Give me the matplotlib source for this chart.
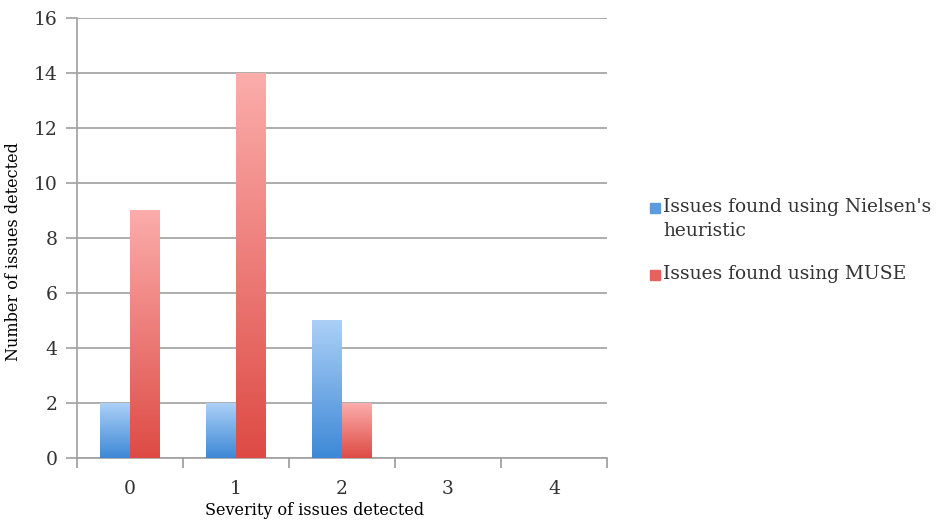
#!/usr/bin/env python3
"""Issues detected by severity: Nielsen's heuristic vs MUSE."""
import numpy as np
import matplotlib
matplotlib.use("Agg")
import matplotlib.pyplot as plt
from matplotlib.colors import LinearSegmentedColormap
from matplotlib.patches import Rectangle

severity = ["0", "1", "2", "3", "4"]
nielsen = [2, 2, 5, 0, 0]
muse = [9, 14, 2, 0, 0]
series_names = ["Issues found using Nielsen's\nheuristic", "Issues found using MUSE"]
series_colors = ["#5b9be0", "#e8625d"]

plt.rcParams["font.family"] = ["DejaVu Serif"]

W, H = 939, 522
fig = plt.figure(figsize=(W/100, H/100), dpi=100)
ax = fig.add_axes([77/W, 1 - 458/H, 530/W, 440/H])

x = np.arange(len(severity))
w = 0.283
b1 = ax.bar(x - w/2, nielsen, w, color="none", zorder=3)
b2 = ax.bar(x + w/2, muse, w, color="none", zorder=3)

blue = LinearSegmentedColormap.from_list("b", ["#3d88d6", "#acd0f7"])
red = LinearSegmentedColormap.from_list("r", ["#de4b45", "#fbadab"])
grad = np.linspace(0, 1, 256).reshape(-1, 1)
for bars, cmap in ((b1, blue), (b2, red)):
    for p in bars:
        h = p.get_height()
        if h <= 0:
            continue
        ax.imshow(grad, cmap=cmap, origin="lower", aspect="auto", zorder=3,
                  extent=(p.get_x(), p.get_x() + p.get_width(), 0, h))

ax.set_xlim(-0.5, len(severity) - 0.5)
ax.set_ylim(0, 16)
ax.set_yticks(range(0, 17, 2))
ax.set_xticks(x)
ax.set_xticklabels(severity)
ax.set_xticks(np.arange(-0.5, len(severity), 1), minor=True)
ax.tick_params(axis="x", which="major", length=0, pad=16, labelsize=13.5, colors="#333333")
ax.tick_params(axis="x", which="minor", length=7, width=1.2, color="#999999")
ax.tick_params(axis="y", length=8, width=1.2, color="#a0a0a0", labelsize=13.5,
               labelcolor="#333333", pad=6)
ax.grid(True, axis="y", color="#a0a0a0", lw=1.2, zorder=0)
for s in ("top", "right"):
    ax.spines[s].set_visible(False)
for s in ("left", "bottom"):
    ax.spines[s].set_color("#a0a0a0")
    ax.spines[s].set_linewidth(1.2)

ax.set_xlabel("Severity of issues detected", fontsize=11.5)
ax.xaxis.set_label_coords(0.449, -0.1)
ax.set_ylabel("Number of issues detected", fontsize=11.5)
ax.yaxis.set_label_coords(-0.103, 0.47)

# legend drawn by hand: Excel puts the key square level with the first line
for name, col, ytop in zip(series_names, series_colors, (198, 265)):
    fig.patches.append(Rectangle((650/W, 1 - (ytop + 15)/H), 10/W, 10/H,
                                 transform=fig.transFigure, color=col))
    fig.text(663/W, 1 - ytop/H, name, fontsize=13.4, color="#333333",
             va="top", ha="left", linespacing=1.4)

fig.savefig("out.png", dpi=100)
